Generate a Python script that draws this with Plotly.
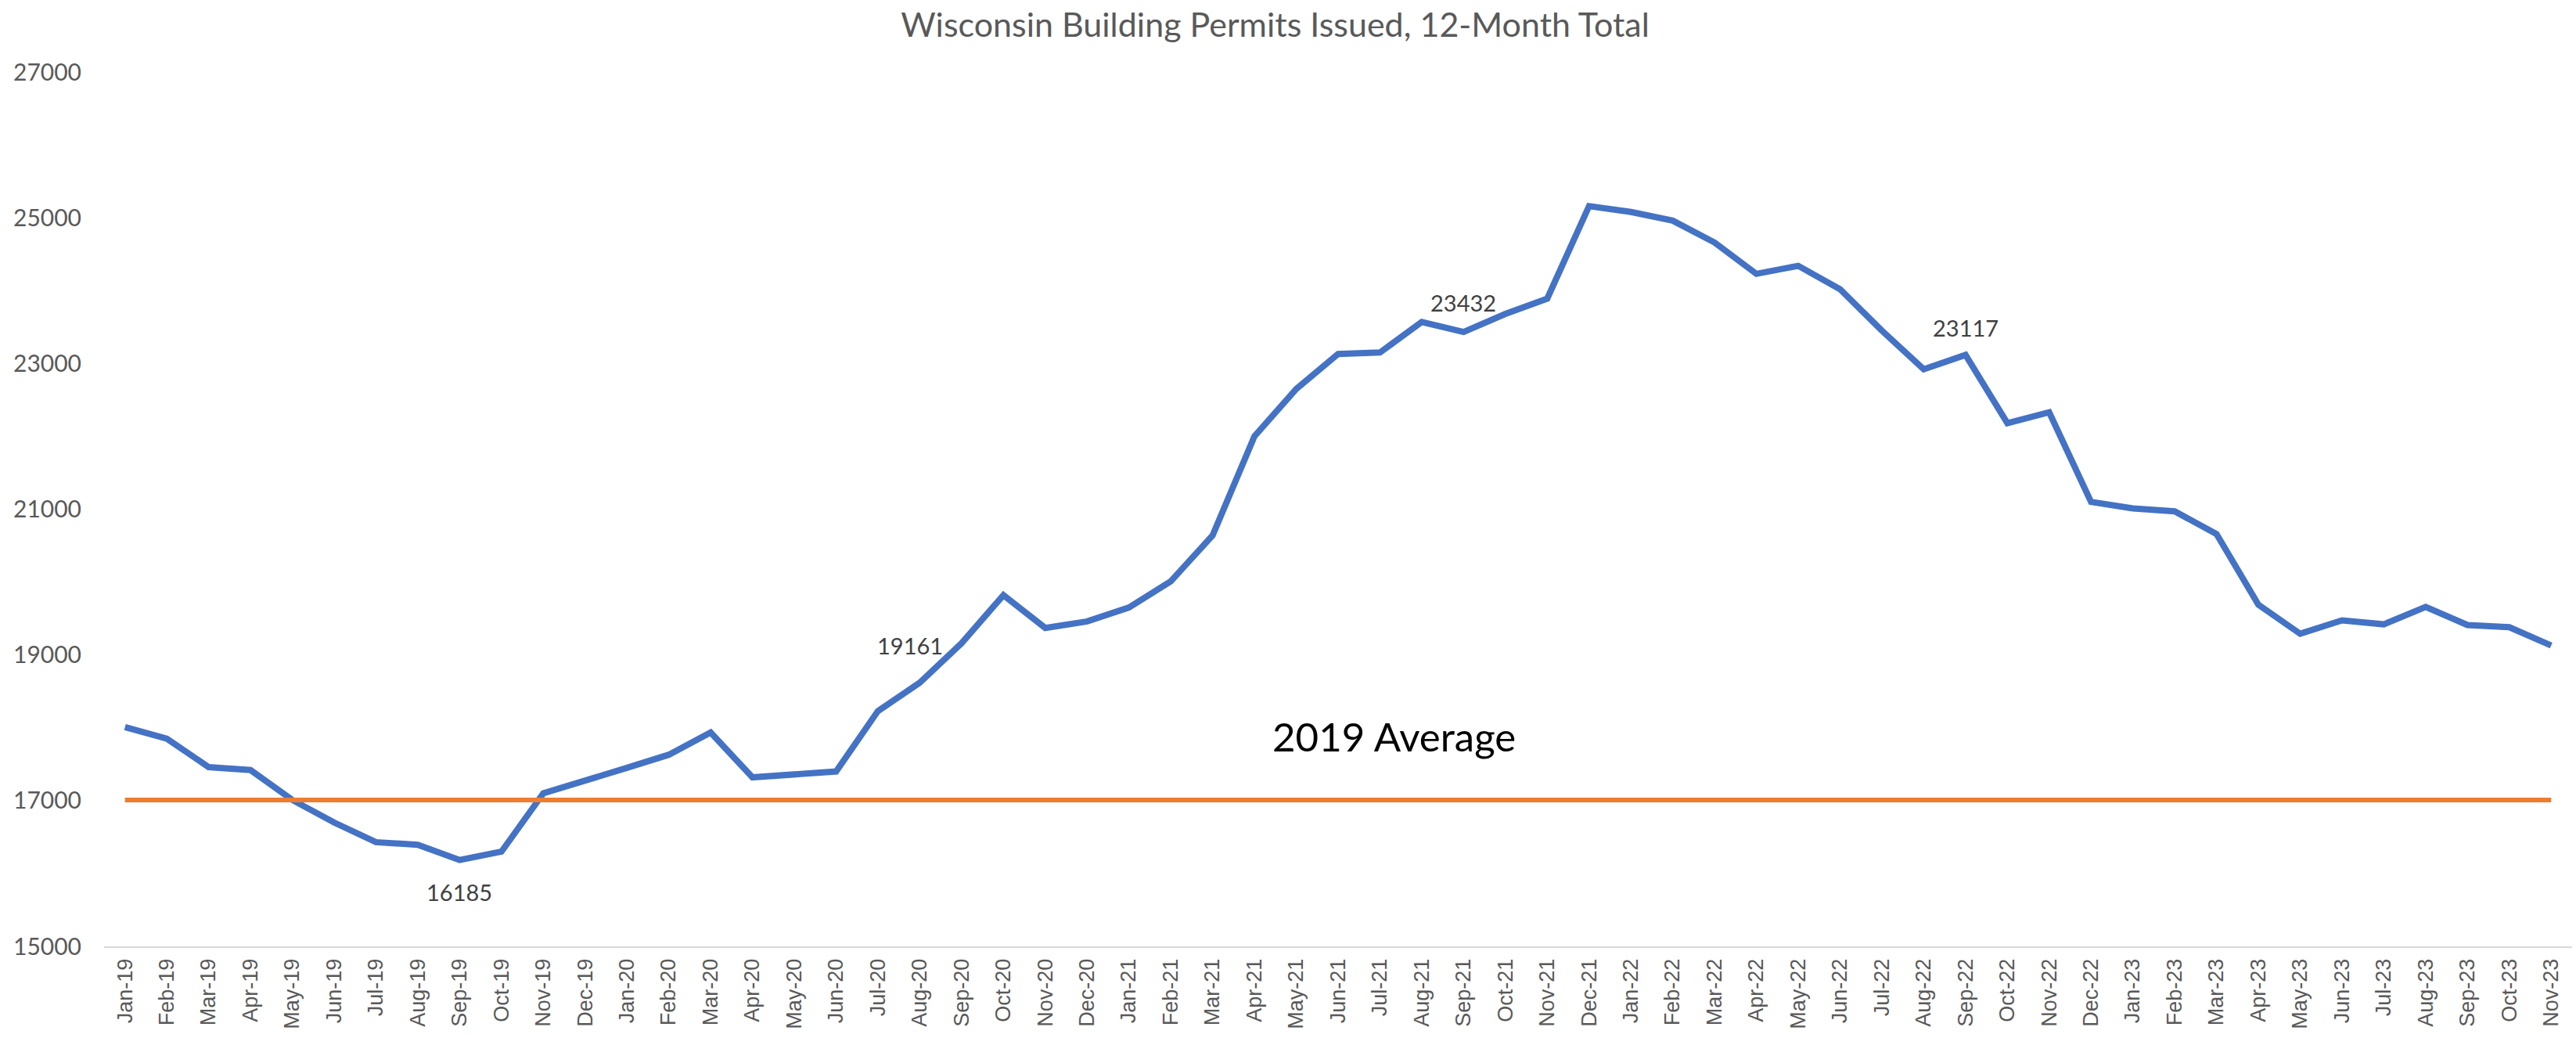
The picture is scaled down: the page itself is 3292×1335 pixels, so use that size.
import plotly.graph_objects as go

months = [
    "Jan-19", "Feb-19", "Mar-19", "Apr-19", "May-19", "Jun-19", "Jul-19", "Aug-19", "Sep-19", "Oct-19", "Nov-19", "Dec-19",
    "Jan-20", "Feb-20", "Mar-20", "Apr-20", "May-20", "Jun-20", "Jul-20", "Aug-20", "Sep-20", "Oct-20", "Nov-20", "Dec-20",
    "Jan-21", "Feb-21", "Mar-21", "Apr-21", "May-21", "Jun-21", "Jul-21", "Aug-21", "Sep-21", "Oct-21", "Nov-21", "Dec-21",
    "Jan-22", "Feb-22", "Mar-22", "Apr-22", "May-22", "Jun-22", "Jul-22", "Aug-22", "Sep-22", "Oct-22", "Nov-22", "Dec-22",
    "Jan-23", "Feb-23", "Mar-23", "Apr-23", "May-23", "Jun-23", "Jul-23", "Aug-23", "Sep-23", "Oct-23", "Nov-23",
]

permits_12m = [
    18010, 17850, 17460, 17420, 17010, 16700, 16430, 16395, 16185, 16300, 17100, 17265,
    17450, 17630, 17935, 17320, 17360, 17400, 18230, 18620, 19161, 19820, 19370, 19460,
    19650, 20010, 20640, 22000, 22650, 23130, 23150, 23570, 23432, 23680, 23890, 25160,
    25080, 24960, 24660, 24230, 24340, 24020, 23450, 22920, 23117, 22180, 22330, 21100,
    21010, 20970, 20660, 19690, 19290, 19475, 19420, 19660, 19410, 19380, 19130,
]

avg_2019 = 17010

labeled_months = ["Sep-19", "Sep-20", "Sep-21", "Sep-22"]
labeled_values = [16185, 19161, 23432, 23117]

y_ticks = [15000, 17000, 19000, 21000, 23000, 25000, 27000]

fig = go.Figure()

fig.add_trace(go.Scatter(
    x=months, y=permits_12m, mode="lines",
    line=dict(color="#4472C4", width=8),
    showlegend=False, hoverinfo="x+y",
))

fig.add_trace(go.Scatter(
    x=[months[0], months[-1]], y=[avg_2019, avg_2019], mode="lines",
    line=dict(color="#ED7D31", width=6),
    showlegend=False, hoverinfo="y",
))

label_font = dict(family="Lato, Carlito, Calibri, sans-serif", size=29, color="#404040")
offsets = {
    "Sep-19": dict(xshift=0, yshift=-41, xanchor="center"),
    "Sep-20": dict(xshift=-22, yshift=-3, xanchor="right"),
    "Sep-21": dict(xshift=0, yshift=38, xanchor="center"),
    "Sep-22": dict(xshift=0, yshift=35, xanchor="center"),
}
for m, v in zip(labeled_months, labeled_values):
    o = offsets[m]
    fig.add_annotation(
        x=m, y=v, text=str(v), showarrow=False,
        xanchor=o["xanchor"], yanchor="middle",
        xshift=o["xshift"], yshift=o["yshift"],
        font=label_font,
    )

fig.add_annotation(
    x=30.33, y=17880, text="2019 Average", showarrow=False,
    xanchor="center", yanchor="middle",
    font=dict(family="Lato, Carlito, Calibri, sans-serif", size=51, color="#000000"),
)

fig.update_layout(
    width=3292, height=1335,
    paper_bgcolor="white", plot_bgcolor="white",
    margin=dict(l=133, r=5, t=92, b=126, autoexpand=False),
    title=dict(
        text="Wisconsin Building Permits Issued, 12-Month Total",
        x=0.495, xanchor="center", y=0.976, yanchor="middle",
        font=dict(family="Lato, Carlito, Calibri, sans-serif", size=43, color="#595959"),
    ),
    xaxis=dict(
        type="category",
        range=[-0.5, len(months) - 0.5],
        tickangle=-90,
        showgrid=False,
        showline=True, linecolor="#D9D9D9", linewidth=2,
        ticks="",
        automargin=False,
        ticklabelstandoff=3,
        tickfont=dict(family="Liberation Sans, Arial, sans-serif", size=27, color="#595959"),
        zeroline=False,
    ),
    yaxis=dict(
        range=[15000, 27000],
        tickvals=y_ticks,
        ticktext=[str(t) for t in y_ticks],
        showgrid=False,
        showline=False,
        zeroline=False,
        ticks="",
        automargin=False,
        ticklabelstandoff=28,
        tickfont=dict(family="Lato, Carlito, Calibri, sans-serif", size=30, color="#595959"),
    ),
)

fig.write_html(
    "out.html",
    config={"displayModeBar": False},
    post_script="document.body.style.margin='0';",
)
